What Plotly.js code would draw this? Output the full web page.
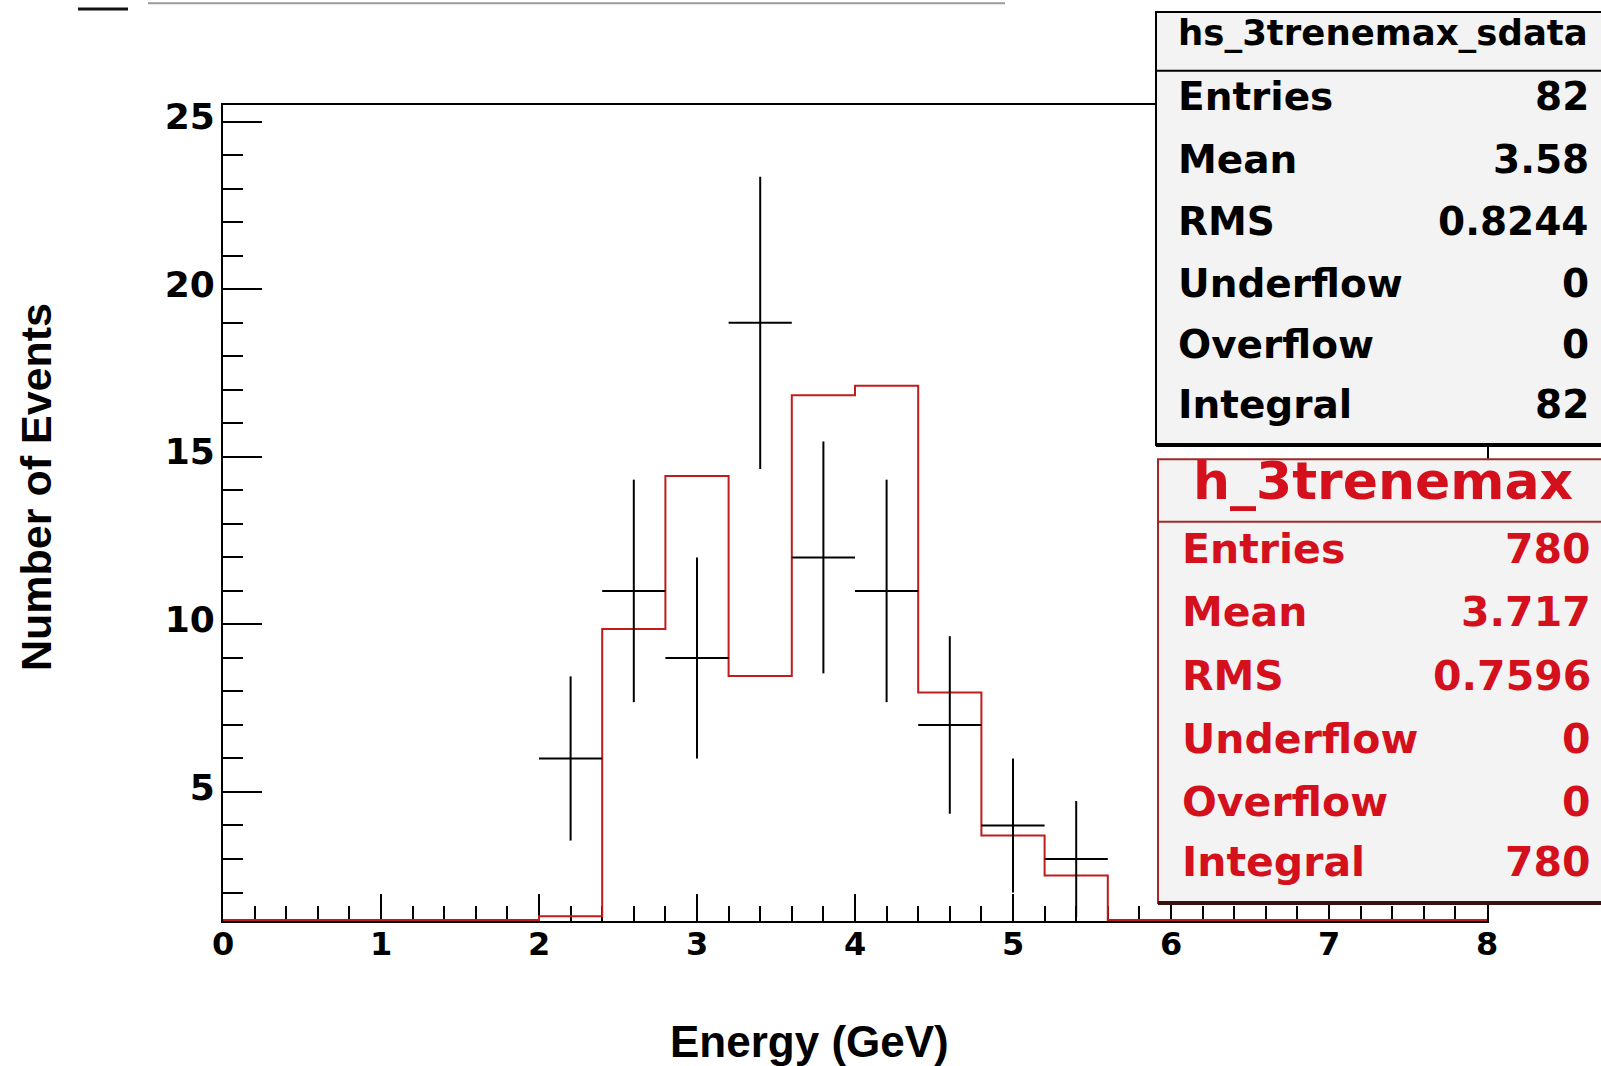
<!DOCTYPE html>
<html>
<head>
<meta charset="utf-8">
<script src="https://cdn.plot.ly/plotly-3.0.1.min.js"></script>
<style>
  html, body { margin: 0; padding: 0; background: #ffffff; }
  #chart { width: 1601px; height: 1066px; }
</style>
</head>
<body>
<div id="chart"></div>
<script>
// ---------------- data ----------------
// Red histogram (h_3trenemax, normalised) : bin edges and contents
const binEdges = [0.0, 0.4, 0.8, 1.2, 1.6, 2.0, 2.4, 2.8, 3.2, 3.6, 4.0,
                  4.4, 4.8, 5.2, 5.6, 6.0, 6.4, 6.8, 7.2, 7.6, 8.0];
const mcCounts = [0, 0, 0, 0, 0, 1.29, 9.86, 14.43, 8.46, 16.84,
                  17.12, 7.97, 3.70, 2.51, 0, 0, 0, 0, 0, 0];

// Black data points (hs_3trenemax_sdata)
const dataCenters   = [2.2, 2.6, 3.0, 3.4, 3.8, 4.2, 4.6, 5.0, 5.4];
const dataCounts    = [6, 11, 9, 19, 12, 11, 7, 4, 3];
const dataErrors    = [2.45, 3.32, 3.0, 4.36, 3.46, 3.32, 2.65, 2.0, 1.73];
const dataHalfWidth = [0.2, 0.2, 0.2, 0.2, 0.2, 0.2, 0.2, 0.2, 0.2];

// Statistics boxes
const statLabels  = ['Entries', 'Mean', 'RMS', 'Underflow', 'Overflow', 'Integral'];
const stat1Name   = 'hs_3trenemax_sdata';
const stat1Values = ['82', '3.58', '0.8244', '0', '0', '82'];
const stat2Name   = 'h_3trenemax';
const stat2Values = ['780', '3.717', '0.7596', '0', '0', '780'];

// Axis titles
const xTitle = 'Energy (GeV)';
const yTitle = 'Number of Events';

// ---------------- layout helpers ----------------
const W = 1601, H = 1066;
const L = 223, R = 1487, T = 105, B = 921;
const Y_MIN = 1.15, Y_MAX = 25.5;
const px = x => (x - L) / (R - L);
const py = y => (B - y) / (B - T);

const RED_TXT = '#d3101c';
const RED_LINE = '#c01c1c';

// ROOT draws bins below the frame minimum on the frame edge
const CLIP_LEVEL = Y_MIN + 0.03;
const mcDrawn = mcCounts.map(v => Math.max(v, CLIP_LEVEL));
mcDrawn.push(mcDrawn[mcDrawn.length - 1]);

const traces = [
  {
    type: 'scatter',
    mode: 'lines',
    x: binEdges,
    y: mcDrawn,
    line: { shape: 'hv', color: RED_LINE, width: 2 },
    hoverinfo: 'skip',
    showlegend: false
  },
  {
    type: 'scatter',
    mode: 'markers',
    x: dataCenters,
    y: dataCounts,
    marker: { size: 1, color: 'rgba(0,0,0,0)' },
    error_y: { type: 'data', array: dataErrors, visible: true, color: '#000', thickness: 2, width: 0 },
    error_x: { type: 'data', array: dataHalfWidth, visible: true, color: '#000', thickness: 2, width: 0 },
    showlegend: false
  }
];

const tickFontX = { family: 'DejaVu Sans', size: 32, weight: 'bold', color: '#000' };
const tickFontY = { family: 'DejaVu Sans', size: 36, weight: 'bold', color: '#000' };

const shapes = [
  // remnants at the top of the canvas
  { type: 'line', xref: 'paper', yref: 'paper', x0: px(148), x1: px(1005), y0: py(3.3), y1: py(3.3),
    line: { color: '#9a9a9a', width: 2 } },
  { type: 'line', xref: 'paper', yref: 'paper', x0: px(78), x1: px(128), y0: py(9), y1: py(9),
    line: { color: '#111', width: 3 } },
  // stat box 1
  { type: 'rect', xref: 'paper', yref: 'paper', x0: px(1156), x1: px(1650), y0: py(12), y1: py(445),
    fillcolor: '#f3f3f3', line: { color: '#000', width: 2 } },
  { type: 'line', xref: 'paper', yref: 'paper', x0: px(1156), x1: px(1650), y0: py(70.7), y1: py(70.7),
    line: { color: '#000', width: 2 } },
  { type: 'line', xref: 'paper', yref: 'paper', x0: px(1156), x1: px(1650), y0: py(445), y1: py(445),
    line: { color: '#000', width: 4 } },
  // stat box 2
  { type: 'rect', xref: 'paper', yref: 'paper', x0: px(1158), x1: px(1650), y0: py(459.3), y1: py(903),
    fillcolor: '#f3f3f3', line: { color: '#a02a2a', width: 2 } },
  { type: 'line', xref: 'paper', yref: 'paper', x0: px(1158), x1: px(1650), y0: py(521.7), y1: py(521.7),
    line: { color: '#a02a2a', width: 2 } },
  { type: 'line', xref: 'paper', yref: 'paper', x0: px(1158), x1: px(1650), y0: py(903), y1: py(903),
    line: { color: '#3a1010', width: 4 } }
];

const annotations = [];
function txt(text, xPix, yPix, anchor, size, color, family, angle) {
  annotations.push({
    xref: 'paper', yref: 'paper', x: px(xPix), y: py(yPix),
    xanchor: anchor, yanchor: 'middle', showarrow: false, text: text,
    textangle: angle || 0,
    font: { family: family || 'DejaVu Sans', size: size, color: color, weight: 'bold' }
  });
}

// stat box 1 text
txt(stat1Name, 1176, 32.6, 'left', 35.5, '#000');
const row1 = [96.3, 159.6, 221.3, 283, 344.3, 404.3];
statLabels.forEach((lab, i) => {
  txt(lab, 1176, row1[i], 'left', 39, '#000');
  txt(stat1Values[i], 1591, row1[i], 'right', 39, '#000');
});
// stat box 2 text
txt(stat2Name, 1383, 481, 'center', 52, RED_TXT);
const row2 = [548.6, 612.3, 675.6, 738.6, 802.3, 862.3];
statLabels.forEach((lab, i) => {
  txt(lab, 1180, row2[i], 'left', 41, RED_TXT);
  txt(stat2Values[i], 1593, row2[i], 'right', 41, RED_TXT);
});
// axis titles
txt(xTitle, 809, 1041, 'center', 44, '#000', 'Liberation Sans');
txt(yTitle, 36, 487, 'center', 43, '#000', 'Liberation Sans', -90);

const layout = {
  width: W, height: H,
  margin: { l: L, r: W - R, t: T, b: H - B, pad: 0 },
  paper_bgcolor: '#ffffff',
  plot_bgcolor: '#ffffff',
  showlegend: false,
  xaxis: {
    range: [0, 8], tick0: 0, dtick: 1,
    showgrid: false, zeroline: false,
    showline: true, linecolor: '#000', linewidth: 2, mirror: true,
    ticks: 'inside', ticklen: 27, tickwidth: 2, tickcolor: '#000',
    minor: { ticks: 'inside', ticklen: 15, tickwidth: 2, tickcolor: '#000', dtick: 0.2, showgrid: false },
    tickfont: tickFontX, ticklabelstandoff: -6,
    layer: 'below traces'
  },
  yaxis: {
    range: [Y_MIN, Y_MAX], tick0: 0, dtick: 5,
    showgrid: false, zeroline: false,
    showline: true, linecolor: '#000', linewidth: 2, mirror: true,
    ticks: 'inside', ticklen: 39, tickwidth: 2, tickcolor: '#000',
    minor: { ticks: 'inside', ticklen: 20, tickwidth: 2, tickcolor: '#000', dtick: 1, showgrid: false },
    tickfont: tickFontY, ticklabelstandoff: -1, ticklabelshift: -5,
    layer: 'below traces'
  },
  shapes: shapes,
  annotations: annotations
};

Plotly.newPlot('chart', traces, layout, { displayModeBar: false, staticPlot: true });
</script>
</body>
</html>
